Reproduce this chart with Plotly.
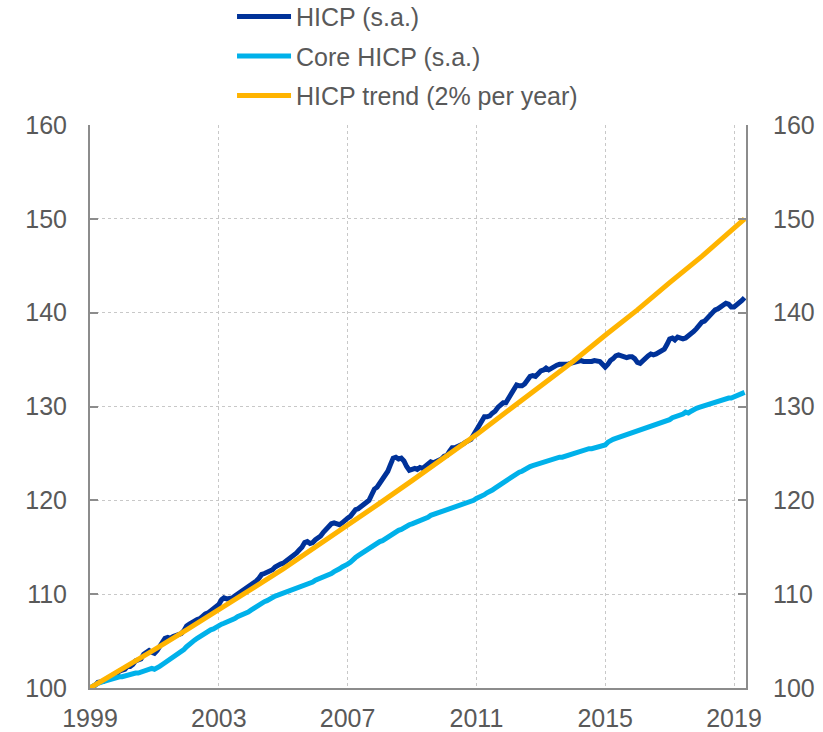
import pandas as pd
import plotly.graph_objects as go

# ---- data (monthly, Jan 1999 = 100) ----
hicp = [
    100.0, 100.1, 100.3, 100.6, 100.6, 100.7, 100.9, 101.0, 101.2, 101.3, 101.5, 101.8,  # 1999
    101.9, 102.0, 102.3, 102.3, 102.5, 102.9, 103.0, 103.1, 103.6, 103.8, 104.0, 103.8,  # 2000
    103.7, 104.0, 104.4, 104.9, 105.3, 105.4, 105.3, 105.5, 105.6, 105.7, 105.8, 106.1,  # 2001
    106.6, 106.8, 107.0, 107.2, 107.3, 107.4, 107.7, 107.9, 108.0, 108.2, 108.4, 108.6,  # 2002
    108.9, 109.4, 109.6, 109.5, 109.5, 109.6, 109.8, 110.0, 110.2, 110.4, 110.6, 110.7,  # 2003
    110.9, 111.1, 111.4, 111.7, 112.1, 112.2, 112.3, 112.5, 112.6, 112.9, 113.1, 113.2,  # 2004
    113.3, 113.5, 113.8, 114.0, 114.1, 114.4, 114.7, 115.0, 115.5, 115.6, 115.4, 115.5,  # 2005
    115.8, 116.0, 116.2, 116.6, 116.9, 117.2, 117.5, 117.6, 117.5, 117.4, 117.6, 117.9,  # 2006
    118.1, 118.3, 118.6, 119.0, 119.1, 119.3, 119.5, 119.7, 120.0, 120.6, 121.2, 121.4,  # 2007
    121.8, 122.1, 122.7, 123.1, 123.8, 124.5, 124.6, 124.4, 124.5, 124.2, 123.6, 123.2,  # 2008
    123.3, 123.4, 123.3, 123.5, 123.4, 123.7, 123.8, 124.1, 124.0, 124.1, 124.3, 124.4,  # 2009
    124.7, 124.8, 125.2, 125.6, 125.6, 125.7, 125.9, 126.0, 126.2, 126.4, 126.5, 127.0,  # 2010
    127.5, 127.9, 128.4, 128.9, 128.9, 129.0, 129.3, 129.5, 129.9, 130.2, 130.4, 130.4,  # 2011
    130.9, 131.4, 131.9, 132.3, 132.2, 132.2, 132.4, 132.8, 133.2, 133.3, 133.2, 133.5,  # 2012
    133.8, 133.9, 134.1, 133.9, 134.1, 134.3, 134.4, 134.5, 134.5, 134.4, 134.5, 134.6,  # 2013
    134.7, 134.7, 134.8, 134.9, 134.8, 134.8, 134.7, 134.8, 134.9, 134.8, 134.8, 134.5,  # 2014
    134.2, 134.5, 134.9, 135.1, 135.4, 135.5, 135.4, 135.3, 135.2, 135.3, 135.3, 135.1,  # 2015
    134.7, 134.6, 134.9, 135.1, 135.4, 135.6, 135.5, 135.6, 135.8, 136.0, 136.1, 136.6,  # 2016
    137.2, 137.3, 137.1, 137.4, 137.3, 137.2, 137.3, 137.5, 137.8, 138.0, 138.3, 138.6,  # 2017
    139.0, 139.1, 139.4, 139.6, 140.0, 140.3, 140.4, 140.6, 140.9, 141.0, 140.9, 140.6,  # 2018
    140.6, 140.8, 141.0, 141.3, 141.6,                                                    # 2019
]

core = [
    100.0, 100.2, 100.3, 100.5, 100.6, 100.7, 100.8, 100.9, 101.0, 101.0, 101.1, 101.2,  # 1999
    101.2, 101.3, 101.3, 101.4, 101.5, 101.6, 101.6, 101.7, 101.8, 101.9, 102.1, 102.1,  # 2000
    102.0, 102.1, 102.3, 102.5, 102.7, 102.9, 103.1, 103.3, 103.5, 103.6, 103.8, 104.1,  # 2001
    104.4, 104.7, 104.9, 105.1, 105.3, 105.5, 105.7, 105.9, 106.0, 106.2, 106.3, 106.5,  # 2002
    106.6, 106.8, 106.9, 107.0, 107.2, 107.3, 107.4, 107.6, 107.7, 107.8, 108.0, 108.1,  # 2003
    108.3, 108.5, 108.7, 108.8, 109.0, 109.2, 109.3, 109.5, 109.6, 109.8, 109.9, 110.0,  # 2004
    110.1, 110.2, 110.3, 110.4, 110.5, 110.6, 110.7, 110.8, 110.9, 111.0, 111.2, 111.3,  # 2005
    111.5, 111.6, 111.7, 111.8, 111.9, 112.1, 112.2, 112.4, 112.5, 112.7, 112.9, 113.0,  # 2006
    113.2, 113.4, 113.7, 113.9, 114.1, 114.3, 114.5, 114.7, 114.9, 115.1, 115.2, 115.4,  # 2007
    115.6, 115.7, 115.9, 116.1, 116.3, 116.5, 116.6, 116.8, 116.9, 117.1, 117.3, 117.4,  # 2008
    117.5, 117.6, 117.7, 117.9, 118.0, 118.1, 118.2, 118.4, 118.5, 118.6, 118.7, 118.8,  # 2009
    118.9, 119.0, 119.1, 119.1, 119.2, 119.3, 119.4, 119.5, 119.6, 119.8, 119.9, 120.0,  # 2010
    120.2, 120.3, 120.5, 120.6, 120.8, 120.9, 121.1, 121.3, 121.5, 121.7, 121.9, 122.1,  # 2011
    122.3, 122.5, 122.6, 122.8, 123.0, 123.1, 123.3, 123.4, 123.6, 123.7, 123.8, 123.9,  # 2012
    124.0, 124.1, 124.2, 124.3, 124.3, 124.4, 124.5, 124.6, 124.6, 124.7, 124.8, 124.9,  # 2013
    125.0, 125.1, 125.2, 125.3, 125.3, 125.4, 125.5, 125.5, 125.6, 125.7, 125.8, 125.8,  # 2014
    125.9, 126.2, 126.4, 126.5, 126.6, 126.7, 126.8, 126.9, 127.0, 127.1, 127.2, 127.3,  # 2015
    127.4, 127.4, 127.5, 127.6, 127.7, 127.8, 127.9, 128.0, 128.1, 128.2, 128.3, 128.5,  # 2016
    128.6, 128.8, 128.9, 128.9, 129.1, 129.2, 129.4, 129.3, 129.5, 129.7, 129.8, 129.9,  # 2017
    130.0, 130.1, 130.2, 130.3, 130.4, 130.5, 130.6, 130.7, 130.8, 130.8, 130.9, 130.9,  # 2018
    131.0, 131.1, 131.2, 131.4, 131.5,                                                    # 2019
]

trend_dates = [f"{y}-01-01" for y in range(1999, 2020)] + ["2019-05-01"]
trend = [100.0, 102.0, 104.1, 106.2, 108.3, 110.5, 112.7, 115.0, 117.3, 119.7, 122.1,
         124.5, 127.0, 129.6, 132.2, 134.8, 137.6, 140.3, 143.2, 146.0, 149.0, 150.0]

dates = pd.date_range("1999-01-01", periods=len(hicp), freq="MS")

tick_years = ["1999", "2003", "2007", "2011", "2015", "2019"]
y_ticks = [100, 110, 120, 130, 140, 150, 160]

FONT = "Liberation Sans, Arial, sans-serif"
TXT = "#595959"
AX = "#8c8c8c"
GRID = "#c8c8c8"

fig = go.Figure()
fig.add_trace(go.Scatter(x=dates, y=hicp, mode="lines", name="HICP (s.a.)", legendgroup="a",
                         line=dict(color="#003299", width=5)))
fig.add_trace(go.Scatter(x=dates, y=core, mode="lines", name="Core HICP (s.a.)", legendgroup="b",
                         line=dict(color="#00B1EA", width=5)))
fig.add_trace(go.Scatter(x=trend_dates, y=trend, mode="lines", name="HICP trend (2% per year)",
                         legendgroup="c", line=dict(color="#FFB400", width=5)))
# dummy trace to anchor the right-hand axis
fig.add_trace(go.Scatter(x=[dates[0]], y=[100], yaxis="y2", mode="lines",
                         showlegend=False, hoverinfo="skip", line=dict(width=0)))

axis_font = dict(family=FONT, size=25, color=TXT)

fig.update_layout(
    width=823, height=732,
    margin=dict(l=90, r=77, t=125, b=44, autoexpand=False),
    paper_bgcolor="white", plot_bgcolor="white",
    font=dict(family=FONT, size=25, color=TXT),
    showlegend=True,
    legend=dict(x=0.2165, xanchor="left", y=1.2330, yanchor="top",
                xref="paper", yref="paper",
                orientation="v", font=dict(family=FONT, size=25, color=TXT),
                bgcolor="rgba(0,0,0,0)", itemwidth=54, tracegroupgap=4),
    xaxis=dict(
        type="date", range=["1999-01-01", "2019-05-17"], automargin=False,
        tickvals=[f"{y}-01-01" for y in tick_years], ticktext=tick_years,
        tickfont=axis_font, showgrid=True, gridcolor=GRID, griddash="dot", gridwidth=1,
        showline=True, linecolor=AX, linewidth=2, ticks="", zeroline=False,
        ticklabelstandoff=7,
    ),
    yaxis=dict(
        range=[100, 160], tickvals=y_ticks, tickfont=axis_font, automargin=False,
        showgrid=True, gridcolor=GRID, griddash="dot", gridwidth=1,
        showline=True, linecolor=AX, linewidth=2, ticks="inside", ticklen=8,
        tickcolor=AX, tickwidth=2, zeroline=False, ticklabelstandoff=16,
    ),
    yaxis2=dict(
        range=[100, 160], tickvals=y_ticks, tickfont=axis_font, overlaying="y",
        side="right", showgrid=False, showline=True, linecolor=AX, linewidth=2,
        ticks="inside", ticklen=8, tickcolor=AX, tickwidth=2, zeroline=False,
        ticklabelstandoff=20, automargin=False,
    ),
)

# remove the default 8px page margin so the figure sits at the window's corner
fig.write_html("out.html", config={"displayModeBar": False},
               post_script="document.body.style.margin='0';")
